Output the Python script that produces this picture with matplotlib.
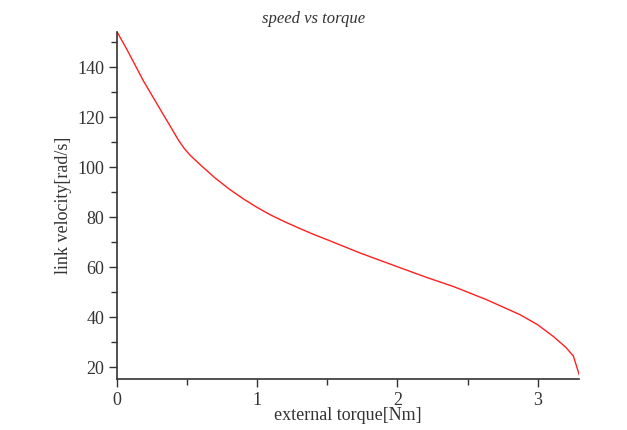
import numpy as np
import matplotlib
matplotlib.use("Agg")
import matplotlib.pyplot as plt
from matplotlib.ticker import MultipleLocator

# values
torque = [0.0, 0.071, 0.19, 0.225, 0.309, 0.380, 0.439, 0.48, 0.522, 0.6, 0.7, 0.8, 0.9,
          1.0, 1.1, 1.2, 1.3, 1.4, 1.5, 1.734, 1.971, 2.21, 2.399, 2.637, 2.875, 3.0,
          3.112, 3.2, 3.254, 3.297]
velocity = [154.2, 147.1, 134.4, 131.1, 123.1, 116.4, 110.8, 107.5, 104.8, 100.7, 95.7, 91.3, 87.4,
            83.9, 80.8, 78.1, 75.6, 73.2, 71.0, 65.7, 60.8, 55.9, 52.3, 47.0, 41.0, 37.0,
            32.3, 28.0, 24.5, 16.9]

xticks = [0, 1, 2, 3]
yticks = [20, 40, 60, 80, 100, 120, 140]

plt.rcParams['font.family'] = ['Liberation Serif', 'DejaVu Serif']

fig = plt.figure(figsize=(6.27, 4.3), dpi=100)
ax = fig.add_axes([0.1866, 0.118, 0.924 - 0.1866, 0.926 - 0.118])

ax.plot(torque, velocity, color='#ff2020', lw=1.0)

ax.set_xlim(0, 3.297)
ax.set_ylim(15.2, 154.2)
ax.set_xticks(xticks)
ax.set_yticks(yticks)
ax.xaxis.set_minor_locator(MultipleLocator(0.5))
ax.yaxis.set_minor_locator(MultipleLocator(10))

for s in ['top', 'right']:
    ax.spines[s].set_visible(False)
for s in ['left', 'bottom']:
    ax.spines[s].set_color('#333333')
    ax.spines[s].set_linewidth(1.2)

ax.tick_params(which='major', length=6, width=1.0, color='#333333',
               labelsize=13, labelcolor='#333333')
ax.tick_params(which='minor', length=4, width=1.0, color='#333333')
ax.tick_params(axis='x', pad=3)
ax.tick_params(axis='y', pad=3)

ax.set_xlabel('external torque[Nm]', fontsize=13, color='#333333', labelpad=-1)
ax.set_ylabel('link velocity[rad/s]', fontsize=13, color='#333333', labelpad=4)
fig.text(0.5, 0.955, 'speed vs torque', ha='center', va='center',
         fontsize=12, style='italic', color='#333333')

fig.savefig('out.png', dpi=100)
